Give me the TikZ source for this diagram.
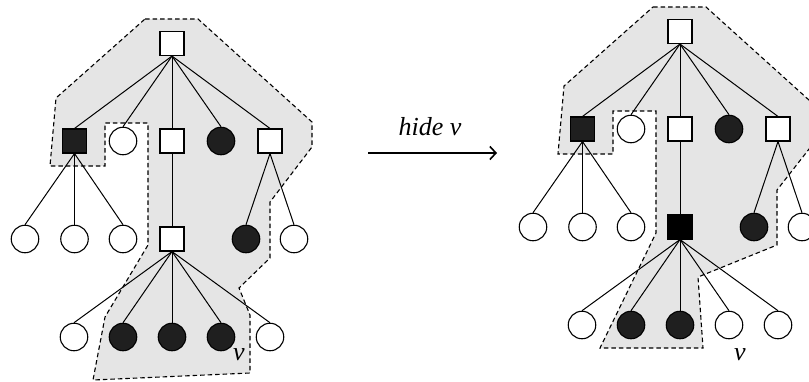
\documentclass[tikz,border=0pt]{standalone}
\usepackage{fontspec}
\setmainfont{Liberation Serif}
\usetikzlibrary{arrows.meta}
\tikzset{
  sqw/.style={rectangle, draw, fill=white, minimum size=24pt, inner sep=0pt, line width=1.1pt},
  sqb/.style={sqw, fill=black!88},
  sqk/.style={sqw, fill=black},
  cw/.style={circle, draw, fill=white, minimum size=27.5pt, inner sep=0pt, line width=1.1pt},
  cb/.style={cw, fill=black!88},
  region/.style={fill=black!10, draw=black, dash pattern=on 4.5pt off 3pt, line width=1.1pt},
  tedge/.style={line width=1pt},
  lbl/.style={font=\fontsize{26}{30}\selectfont\itshape, inner sep=0pt}
}
\begin{document}
\begin{tikzpicture}[x=1pt,y=-1pt]
\useasboundingbox (0,0) rectangle (809,381);
% regions
\draw[region] (145,19) -- (198,19) -- (312,122) -- (312,147) -- (270,202) -- (270,258) -- (239,288) -- (250,315) -- (250,373) -- (93,380) -- (105,317) -- (148,245) -- (148,123) -- (105,123) -- (105,166) -- (50,166) -- (56,98) -- cycle;
\draw[region] (653,7) -- (706,7) -- (820,110) -- (820,135) -- (777,190) -- (777,245) -- (698,277) -- (703,348) -- (600,348) -- (656,233) -- (656,111) -- (613,111) -- (613,154) -- (558,154) -- (564,86) -- cycle;
% left tree
\node[sqw] (r) at (172,43.5) {};
\node[sqb] (a1) at (74.5,141) {};
\node[cw]  (a2) at (123,141) {};
\node[sqw] (a3) at (172,141) {};
\node[cb]  (a4) at (221,141) {};
\node[sqw] (a5) at (270,141) {};
\node[cw]  (b1) at (25,239) {};
\node[cw]  (b2) at (74.5,239) {};
\node[cw]  (b3) at (123,239) {};
\node[sqw] (b4) at (172,239) {};
\node[cb]  (b5) at (246,239) {};
\node[cw]  (b6) at (294,239) {};
\node[cw]  (c1) at (74,337) {};
\node[cb]  (c2) at (123,337) {};
\node[cb]  (c3) at (172,337) {};
\node[cb]  (c4) at (221,337) {};
\node[cw]  (c5) at (270,337) {};
\foreach \n in {a1,a2,a3,a4,a5} \draw[tedge] (r.south) -- (\n.north);
\foreach \n in {b1,b2,b3} \draw[tedge] (a1.south) -- (\n.north);
\draw[tedge] (a3.south) -- (b4.north);
\foreach \n in {b5,b6} \draw[tedge] (a5.south) -- (\n.north);
\foreach \n in {c1,c2,c3,c4,c5} \draw[tedge] (b4.south) -- (\n.north);
\node[lbl] (v1) at (239,355) {v};
% right tree
\node[sqw] (R) at (680,31.5) {};
\node[sqb] (A1) at (582.5,129) {};
\node[cw]  (A2) at (631,129) {};
\node[sqw] (A3) at (680,129) {};
\node[cb]  (A4) at (729,129) {};
\node[sqw] (A5) at (778,129) {};
\node[cw]  (B1) at (533,227) {};
\node[cw]  (B2) at (582.5,227) {};
\node[cw]  (B3) at (631,227) {};
\node[sqk] (B4) at (680,227) {};
\node[cb]  (B5) at (754,227) {};
\node[cw]  (B6) at (802,227) {};
\node[cw]  (C1) at (582,325) {};
\node[cb]  (C2) at (631,325) {};
\node[cb]  (C3) at (680,325) {};
\node[cw]  (C4) at (729,325) {};
\node[cw]  (C5) at (778,325) {};
\foreach \n in {A1,A2,A3,A4,A5} \draw[tedge] (R.south) -- (\n.north);
\foreach \n in {B1,B2,B3} \draw[tedge] (A1.south) -- (\n.north);
\draw[tedge] (A3.south) -- (B4.north);
\foreach \n in {B5,B6} \draw[tedge] (A5.south) -- (\n.north);
\foreach \n in {C1,C2,C3,C4,C5} \draw[tedge] (B4.south) -- (\n.north);
\node[lbl] (v2) at (740,355) {v};
% arrow
\coordinate (p) at (368,153);
\coordinate (q) at (497,153);
\draw[-{Straight Barb[length=6pt,width=13pt,line width=1.6pt]}, line width=1.6pt] (p) -- (q);
\node[lbl, anchor=base] (h) at (430,135) {hide v};
\end{tikzpicture}
\end{document}
